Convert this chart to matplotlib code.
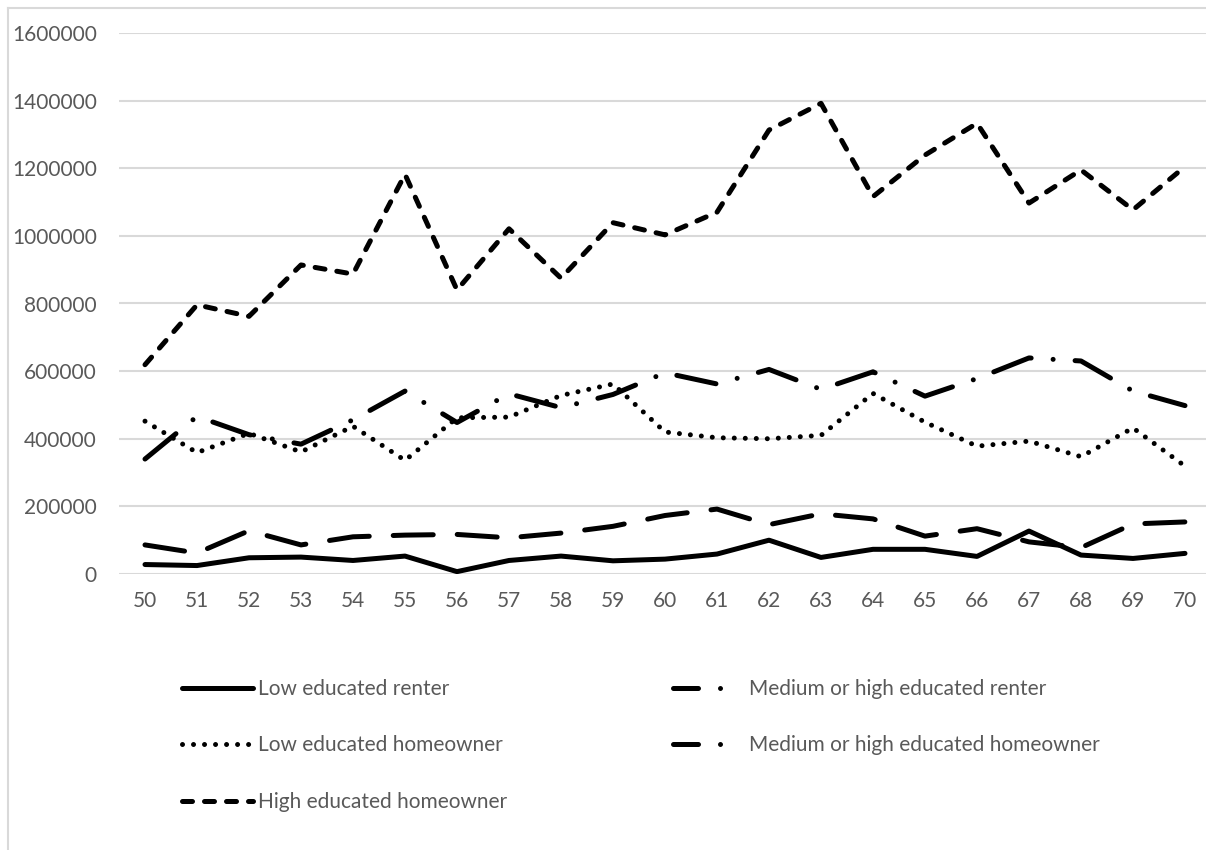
import matplotlib
matplotlib.use("Agg")
import matplotlib.pyplot as plt
from matplotlib.lines import Line2D

# lengths of dash patterns in points, not in line widths
plt.rcParams['lines.scale_dashes'] = False
plt.rcParams['font.family'] = ['Lato', 'DejaVu Sans']

# age (years) on the category axis
ages = [str(a) for a in range(50, 71)]

low_renter = [28000, 25000, 48000, 50000, 40000, 53000, 7000, 40000, 53000, 39000, 44000,
              59000, 100000, 49000, 73000, 73000, 52000, 127000, 56000, 46000, 61000]
mid_renter = [86000, 62000, 128000, 86000, 110000, 115000, 117000, 107000, 121000, 141000, 173000,
              192000, 146000, 178000, 163000, 112000, 134000, 95000, 78000, 148000, 154000]
low_owner = [452000, 359000, 416000, 361000, 437000, 336000, 462000, 464000, 528000, 562000, 420000,
             403000, 400000, 410000, 534000, 449000, 378000, 393000, 347000, 432000, 319000]
mid_owner = [340000, 466000, 412000, 384000, 456000, 541000, 448000, 533000, 492000, 531000, 595000,
             562000, 605000, 546000, 598000, 526000, 578000, 639000, 630000, 541000, 498000]
high_owner = [619000, 796000, 762000, 914000, 887000, 1182000, 840000, 1021000, 875000, 1039000, 1003000,
              1070000, 1313000, 1392000, 1116000, 1239000, 1333000, 1097000, 1195000, 1077000, 1205000]

labels = ["Low educated renter", "Medium or high educated renter",
          "Low educated homeowner", "Medium or high educated homeowner",
          "High educated homeowner"]

TXT = '#595959'
GRID = '#D9D9D9'
PX = 0.72  # pixel -> point at dpi 100
LW = 5 * PX

fig = plt.figure(figsize=(12.06, 8.5), dpi=100)
ax = fig.add_axes([119 / 1206, 1 - 574 / 850, 1092 / 1206, 541 / 850])

x = list(range(len(ages)))
common = dict(color='black', lw=LW, dash_capstyle='round', solid_capstyle='round',
              solid_joinstyle='round', dash_joinstyle='round')

l1, = ax.plot(x, low_renter, linestyle='-', **common)
l2, = ax.plot(x, mid_renter, linestyle=(0, (40 * PX, 24 * PX)), **common)
l3, = ax.plot(x, low_owner, linestyle=(0, (0.01, 11 * PX)), **common)
l4, = ax.plot(x, mid_owner, linestyle=(0, (40 * PX, 22 * PX, 0.01, 22 * PX)), **common)
l5, = ax.plot(x, high_owner, linestyle=(0, (10 * PX, 12 * PX)), **common)

ax.set_xlim(-0.5, len(ages) - 0.5)
ax.set_ylim(0, 1600000)
ax.set_yticks(range(0, 1600001, 200000))
ax.set_yticklabels([str(v) for v in range(0, 1600001, 200000)])
ax.set_xticks(x)
ax.set_xticklabels(ages)
ax.grid(axis='y', color=GRID, lw=1.5)
ax.set_axisbelow(True)
for s in ax.spines.values():
    s.set_visible(False)
ax.tick_params(axis='both', length=0, labelsize=15, labelcolor=TXT)
ax.tick_params(axis='y', pad=16)
ax.tick_params(axis='x', pad=12)

# proxies so both "medium or high" entries show the long dash + dot key
dd = (0, (25 * PX, 22 * PX, 0.01, 40 * PX))
p2 = Line2D([], [], linestyle=dd, **common)
p4 = Line2D([], [], linestyle=dd, **common)

leg_kw = dict(frameon=False, fontsize=15, labelcolor=TXT, handlelength=3.4,
              handletextpad=0.25, labelspacing=1.75, borderpad=0, borderaxespad=0,
              loc='upper left')
leg1 = fig.legend([l1, l3, l5], [labels[0], labels[2], labels[4]],
                  bbox_to_anchor=(182 / 1206, 1 - 679 / 850), **leg_kw)
leg2 = fig.legend([p2, p4], [labels[1], labels[3]],
                  bbox_to_anchor=(673 / 1206, 1 - 679 / 850), **leg_kw)

# chart area border (cut off at right and bottom)
fig.add_artist(Line2D([8 / 1206, 8 / 1206], [0, 1 - 8 / 850], color=GRID, lw=1.5))
fig.add_artist(Line2D([8 / 1206, 1], [1 - 8 / 850, 1 - 8 / 850], color=GRID, lw=1.5))

fig.savefig("out.png", dpi=100)
